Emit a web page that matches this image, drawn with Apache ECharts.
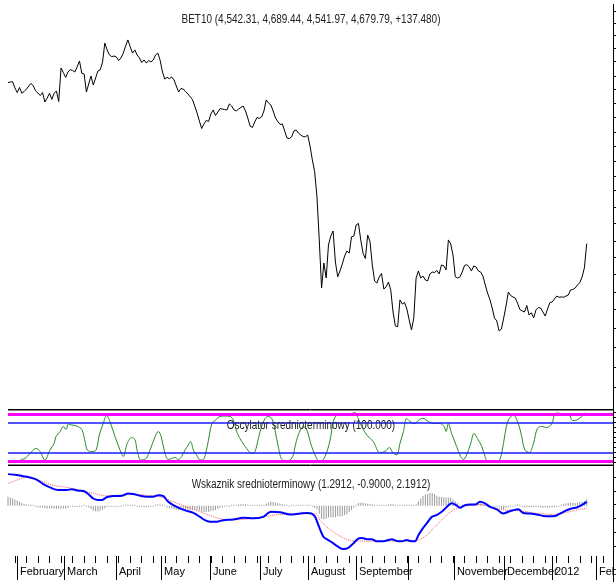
<!DOCTYPE html>
<html><head><meta charset="utf-8">
<script src="https://cdn.jsdelivr.net/npm/echarts@6/dist/echarts.min.js"></script>
<style>html,body{margin:0;padding:0;background:#fff}#c{width:616px;height:582px}</style>
</head><body><div id="c"></div>
<script>
// BET10 daily close (one value per trading day)
const priceValues = [
5598,5601,5603,5567,5541,5570,5537,5547,5561,5578,
5593,5578,5550,5538,5524,5541,5487,5510,5537,5502,
5536,5550,5490,5681,5655,5627,5658,5672,5667,5658,
5687,5721,5651,5647,5544,5590,5635,5584,5624,5664,
5670,5715,5823,5784,5755,5746,5749,5744,5724,5738,
5766,5806,5841,5802,5766,5784,5755,5738,5712,5727,
5709,5724,5715,5727,5755,5766,5724,5658,5618,5628,
5620,5630,5613,5578,5544,5564,5561,5547,5533,5517,
5501,5464,5424,5379,5336,5362,5382,5376,5419,5442,
5410,5430,5450,5447,5444,5442,5476,5464,5442,5436,
5447,5456,5464,5436,5396,5350,5342,5373,5399,5393,
5402,5436,5499,5481,5470,5436,5396,5376,5359,5362,
5322,5282,5279,5288,5322,5328,5310,5299,5290,5289,
5299,5236,5157,5090,4946,4701,4427,4569,4484,4672,
4723,4752,4575,4491,4524,4564,4609,4638,4626,4719,
4723,4786,4795,4701,4624,4595,4729,4692,4558,4467,
4455,4490,4510,4421,4433,4461,4416,4290,4210,4206,
4359,4336,4344,4307,4245,4188,4256,4484,4524,4484,
4495,4473,4467,4507,4518,4515,4527,4507,4558,4554,
4530,4701,4678,4615,4491,4484,4490,4518,4555,4560,
4547,4524,4552,4547,4524,4518,4495,4444,4398,4361,
4313,4256,4239,4182,4193,4256,4324,4404,4384,4376,
4370,4341,4304,4296,4290,4327,4273,4286,4256,4302,
4316,4313,4290,4267,4307,4343,4347,4364,4381,4374,
4376,4374,4381,4387,4416,4418,4427,4444,4458,4490,
4542.31,4679.79
];
// Oscylator srednioterminowy (day index, value)
const oscX = [
5.5,7.4,9.5,12.1,13.9,16,18.2,20,20.8,22.6,
24,25.2,26.2,27.6,29.8,32,33.4,34.4,36.3,38.2,
39.6,41.3,42.8,44.2,46.4,48.6,50,51.7,53.7,55.1,
56.1,57.6,59.4,61.6,63.8,65.2,66.4,68.1,69.5,71,
72.4,73.9,75.3,76.8,78.2,79.2,80.4,81.8,83.3,84.7,
86.4,88.4,89.8,92,94.1,96.3,97.7,99.5,101.4,103.5,
105.7,107.1,108.6,110,111.5,112.9,114.4,115.8,117.2,119.1,
121.6,123.5,124.5,125.9,128.1,129.6,131.7,133.9,135.3,137.5,
139.7,141.1,142.6,144.7,146.9,149.1,150.5,151.9,153.4,155.6,
158.4,161.3,163.5,165.4,166.9,168.6,170,171.5,172.9,174.4,
176.5,178.4,180.1,182.3,184.5,187.4,189.1,190,191,192.4,
194.6,196.3,197.5,198.9,200.7,202.1,203.6,205.5,206.9,208.3,
210.5,212.7,214.1,215.6,217,219.2,221.3,222.8,224.2,226.1,
227.9,229.6,231.5,233.6,235.8,237.3,238.7,240.9,243,244.9,
246.7,248.8,250.7
];
const oscY = [
6,8,18,28,22,5,25,38,52,62,
72,66,77,75,73,66,42,25,22,25,
55,78,94,82,52,25,12,38,50,45,
22,5,6,25,52,62,52,18,6,8,
10,6,12,25,35,42,25,15,5,6,
32,78,84,92,93,92,85,58,42,28,
18,22,48,72,88,92,88,65,32,5,
4,12,32,55,72,65,32,8,1,12,
45,82,95,98,98,98,100,88,72,55,
42,20,22,30,20,15,38,62,88,82,
78,86,88,82,78,78,72,62,78,58,
32,12,6,15,38,58,48,32,12,0,
0,2,18,58,85,95,78,52,25,20,
38,68,72,70,77,98,99,95,98,84,
85,92,100
];
// Wskaznik srednioterminowy: main line (blue)
const blueX = [
0,3.8,6.6,9.5,12.4,15.3,18.2,21.8,25.5,27.6,
30.5,32.7,34.8,37,39.2,40.6,42.8,45.7,49.3,52.2,
54.3,57.3,60.2,63,65.2,67.4,69.5,71.7,74.6,77.5,
80.4,83.3,85.4,87.6,90.5,93.4,97.7,102,106.4,110.7,
112.9,114.4,118,122.3,126.6,129.6,131.7,133.2,134.6,136.8,
138.9,141.1,143.3,145.4,147.6,149.8,151.9,153.4,155.6,157.7,
159.9,162.8,164.9,166.4,168.6,170.8,172.9,174.4,176.5,178,
179.9,181.6,183.8,185.9,188.1,190.3,192.4,194.3,196,198.2,
200.4,202.6,204.7,206.9,209.1,212,214.8,217,219.2,221.3,
223.5,226.4,229.3,232.2,235.1,237.3,239.4,242.3,244.5,246.7,
248.8,251
];
const blueY = [
10.5,10.2,9.8,9.4,8.7,7.2,6.1,5.2,5.2,5.5,
5.0,4.9,3.9,2.4,1.9,1.9,2.8,3.2,3.3,4.1,
3.9,3.3,3.0,3.0,3.5,3.2,1.3,0.2,-0.9,-1.7,
-2.4,-3.7,-4.8,-5.3,-5.3,-4.8,-4.6,-4.0,-4.2,-3.7,
-2.4,-2.0,-2.2,-2.9,-2.6,-2.4,-2.6,-3.7,-6.4,-10.3,
-11.4,-12.5,-13.7,-14.4,-14.0,-12.5,-10.9,-10.7,-11.1,-11.1,
-11.8,-11.8,-11.4,-11.1,-11.7,-11.8,-11.4,-11.7,-11.8,-9.8,
-7.5,-5.9,-3.7,-3.1,-2.0,-0.4,0.8,0.2,-0.7,0.2,
0.4,0.4,1.3,0.8,-0.4,-1.2,-2.6,-2.0,-1.5,-1.2,
-2.4,-2.6,-2.9,-3.4,-3.5,-3.4,-2.6,-1.5,-0.9,-0.6,
0.2,1.2912
];
// signal line (red dotted)
const redX = [
0,3.8,7.4,11,15.3,19.6,25.5,31.2,37,42.8,
48.6,54.3,60.2,65.9,71.7,77.5,83.3,89.2,94.9,100.6,
106.4,112.2,118,123.7,129.6,133.9,135.3,138.2,141.1,144,
146.9,149.8,155.6,162.8,170,175.8,178.7,181.6,184.5,187.4,
190.3,193.1,196,198.9,201.8,204.7,207.6,210.5,213.4,216.3,
219.2,222.1,225,227.8,230.7,233.6,236.5,239.4,242.3,245.2,
248.1,251
];
const redY = [
7.4,8.5,9.4,9.1,7.9,6.8,6.1,5.2,4.1,3.3,
3.4,3.8,3.5,3.0,1.3,-0.4,-2.0,-3.7,-4.6,-4.6,
-4.2,-3.5,-2.9,-2.8,-2.6,-2.8,-4.8,-7.0,-8.7,-10.1,
-11.2,-11.7,-11.8,-11.8,-11.8,-11.8,-11.2,-9.8,-7.5,-5.3,
-3.1,-1.5,-0.6,-0.1,0.2,0.4,0.0,-0.6,-1.1,-1.5,
-1.5,-1.7,-2.0,-2.4,-2.6,-2.8,-2.9,-2.6,-2.2,-1.7,
-1.2,-0.9
];
// histogram (one bar per trading day)
const histValues = [
3.0,2.7,2.4,2.0,1.7,1.4,
1.0,0.6,0.4,0.2,0.1,
0,-0.3,-0.5,-0.6,-0.7,
-0.8,-0.9,-0.9,-0.9,-0.9,
-1.1,-1.0,-1.0,-0.9,-0.9,
-0.7,-0.3,-0.3,-0.3,-0.4,-0.2,
-0.1,0.1,-0.2,-0.6,-1.1,-1.7,
-1.8,-1.9,-1.7,-1.3,-0.8,
-0.4,-0.3,-0.2,-0.2,-0.2,-0.1,
-0.1,0,0.2,0.4,0.3,0.1,
0,-0.1,-0.3,-0.4,-0.5,-0.5,
-0.4,-0.3,-0.2,0.2,0.5,0.4,
0.4,0,-0.6,-0.8,-0.9,-1.2,
-1.3,-1.4,-1.3,-1.3,-1.3,-1.3,
-1.3,-1.3,-1.4,-1.4,-1.7,-2.0,
-2.1,-2.1,-2.0,-1.8,-1.6,-1.4,
-1.1,-0.7,-0.5,-0.3,-0.1,-0.1,
0,0.1,0.2,0.4,0.5,0.5,
0.5,0.3,0.1,0,0,0,
0,0.1,0.2,0.7,1.1,1.3,
1.2,1.0,0.9,0.7,0.5,0.3,
0,-0.1,0,0,0.1,0.1,
0.1,0.1,0.2,0.2,0.1,-0.2,
-0.7,-1.2,-2.7,-4.4,-4.5,-4.3,
-3.9,-3.8,-3.8,-3.8,-3.5,-3.6,
-3.5,-3.1,-2.8,-2.1,-1.4,-0.7,
0.1,0.9,1.0,1.0,0.8,0.7,
0.7,0.5,0.2,0,0,0,
0,0.2,0.4,0.6,0.5,0.2,
0.1,0,0,0.2,0.4,0.2,
0.1,0,0.5,1.5,2.5,3.3,
3.8,4.0,4.2,4.2,3.8,3.3,
3.0,2.9,2.7,2.7,2.7,2.7,
2.1,1.5,0.9,0,0.1,0.3,
0.4,0.4,0.3,0.2,0.4,0.7,
0.8,0.7,0.7,0.4,-0.1,-0.2,
-0.3,-0.3,-0.5,-1.0,-1.2,-0.7,
-0.5,-0.3,-0.1,0.2,0.4,0,
-0.4,-0.6,-0.5,-0.5,-0.4,-0.4,
-0.4,-0.4,-0.6,-0.7,-0.6,-0.7,
-0.6,-0.6,-0.5,-0.3,-0.1,0.2,
0.6,0.8,0.9,1.0,0.9,0.9,
1.0,1.2,1.3,1.6,2.19
];
// x axis: month boundaries (day index) and labels, weekly ticks
const monthTicks = [3.9,24.3,46.8,66.4,87.6,109.3,130.1,150.9,173.5,193.4,215.1,235.9,255.0];
const monthLabels = ['February','March','April','May','June','July','August','September','','November','December','2012','Feb'];
const weekTicks = [3,8,13,18,23,28,33,38,43,48,53,58,63,68,73,78,83,88,93,98,103,108,113,118,123,128,133,138,143,148,153,158,163,168,173,178,183,188,193,198,203,208,213,218,223,228,233,238,243,248,253,258];
// right-axis tick values
const priceTicks = [6006,5937,5869,5795,5721,5635,5561,5481,5402,5316,5236,5151,5065,4986,4889,4797,4695,4604,4507,4404,4307,4199,4091,3977,3863];
const oscTicks = [0,10,20,30,40,50,60,70,80,90,100];
const indTicks = [9.5,4.9,0.5,-4.2,-8.8,-13.4];

const titleText = 'BET10 (4,542.31, 4,689.44, 4,541.97, 4,679.79, +137.480)';
const oscText = 'Oscylator srednioterminowy (100.000)';
const indText = 'Wskaznik srednioterminowy (1.2912, -0.9000, 2.1912)';

const FONT = "'Liberation Sans', Arial, sans-serif";
const XMAX = 262.4;
const pair = (xs, ys) => xs.map((x, k) => [x, ys[k]]);

const chart = echarts.init(document.getElementById('c'), null, {renderer: 'canvas'});
const baseX = (g) => ({gridIndex: g, type: 'value', min: 0, max: XMAX, show: false, axisLine: {onZero: false}});
const rightY = (g, mn, mx, ticks) => ({
  gridIndex: g, type: 'value', position: 'right', min: mn, max: mx,
  axisLine: {show: true, onZero: false, lineStyle: {color: '#000', width: 1}},
  axisTick: {show: true, inside: false, length: 3, customValues: ticks, lineStyle: {color: '#000'}},
  axisLabel: {show: false}, splitLine: {show: false}
});
const hLine = (v, color, width) => ({yAxis: v, lineStyle: {color: color, width: width, type: 'solid'}});
const narrowText = (x, y, text) => ({type: 'text', z: 100, x: x, y: y, scaleX: 0.83, scaleY: 1,
  style: {text: text, align: 'center', verticalAlign: 'middle', font: "12px " + FONT, fill: '#222'}});

chart.setOption({
  animation: false,
  backgroundColor: '#fff',
  grid: [
    {left: 8, right: 3, top: 5, height: 400, outerBoundsMode: 'none'},
    {left: 8, right: 3, top: 409, height: 56, outerBoundsMode: 'none'},
    {left: 8, right: 3, top: 466, height: 90, outerBoundsMode: 'none'}
  ],
  xAxis: [
    baseX(0), baseX(1),
    {gridIndex: 2, type: 'value', min: 0, max: XMAX, position: 'bottom',
     axisLine: {show: false, onZero: false}, splitLine: {show: false},
     axisTick: {show: true, length: 7, customValues: weekTicks, lineStyle: {color: '#000'}},
     axisLabel: {show: false}},
    {gridIndex: 2, type: 'value', min: 0, max: XMAX, position: 'bottom',
     axisLine: {show: false, onZero: false}, splitLine: {show: false},
     axisTick: {show: true, length: 24, customValues: monthTicks, lineStyle: {color: '#000'}},
     axisLabel: {show: true, customValues: monthTicks, showMinLabel: true, showMaxLabel: true, hideOverlap: false,
       align: 'left', margin: 10, padding: [0, 0, 0, 3],
       fontFamily: FONT, fontSize: 11, color: '#000',
       formatter: (v) => { const k = monthTicks.findIndex(t => Math.abs(t - v) < 0.01); return k >= 0 ? monthLabels[k] : ''; }}}
  ],
  yAxis: [
    rightY(0, 3760, 6040, priceTicks),
    rightY(1, -5, 107, oscTicks),
    rightY(2, -16.7, 13.2, indTicks)
  ],
  graphic: [
    {type: 'line', z: 50, shape: {x1: 613.5, y1: 4, x2: 613.5, y2: 582}, style: {stroke: '#000', lineWidth: 1}},
    narrowText(311, 20, titleText),
    narrowText(311, 426, oscText),
    narrowText(311, 485, indText)
  ],
  series: [
    {type: 'line', name: 'BET10', xAxisIndex: 0, yAxisIndex: 0, data: priceValues.map((v, i) => [i, v]),
     symbol: 'none', lineStyle: {color: '#000', width: 1}},
    {type: 'line', name: 'levels', xAxisIndex: 1, yAxisIndex: 1, data: [], z: 1,
     markLine: {silent: true, symbol: ['none', 'none'], label: {show: false}, animation: false,
       data: [hLine(97, '#ff00ff', 3), hLine(2, '#ff00ff', 3), hLine(80, '#1a1aff', 1.5), hLine(20, '#1a1aff', 1.5),
              hLine(107, '#000', 1), hLine(104, '#888', 1), hLine(-3.5, '#888', 1), hLine(-5, '#000', 1)]}},
    {type: 'line', name: 'osc', xAxisIndex: 1, yAxisIndex: 1, data: pair(oscX, oscY), z: 3,
     symbol: 'none', smooth: 0.35, lineStyle: {color: '#2a8a2a', width: 1}},
    {type: 'bar', name: 'hist', xAxisIndex: 2, yAxisIndex: 2, data: histValues.map((v, i) => [i, v]),
     barWidth: 1, barMinHeight: 1, itemStyle: {color: '#9a9a9a'}},
    {type: 'line', name: 'signal', xAxisIndex: 2, yAxisIndex: 2, data: pair(redX, redY),
     symbol: 'none', smooth: 0.3, lineStyle: {color: '#ff5a5a', width: 1, type: 'dotted'}},
    {type: 'line', name: 'main', xAxisIndex: 2, yAxisIndex: 2, data: pair(blueX, blueY),
     symbol: 'none', smooth: 0.3, lineStyle: {color: '#0000ff', width: 2}}
  ]
});
</script></body></html>
